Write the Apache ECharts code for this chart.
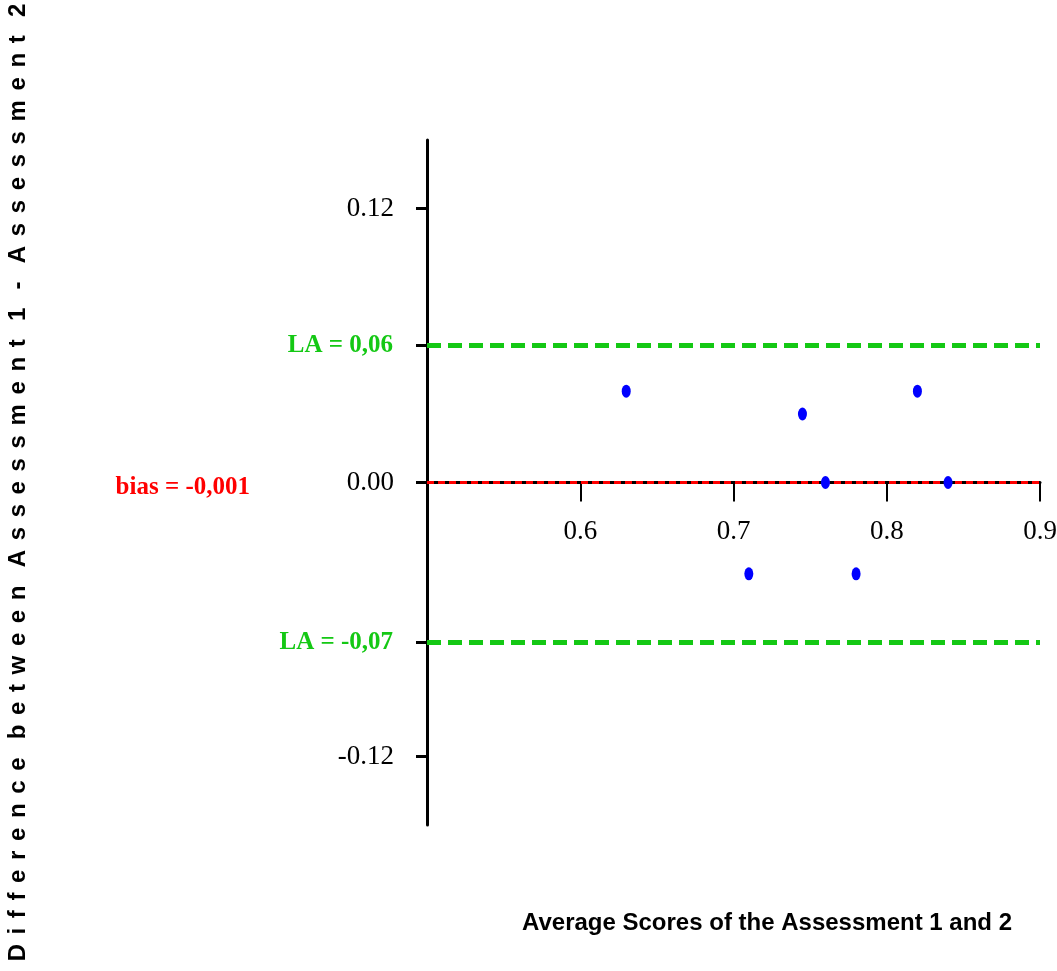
<!DOCTYPE html>
<html>
<head>
<meta charset="utf-8">
<script src="https://cdn.jsdelivr.net/npm/echarts@6/dist/echarts.min.js"></script>
<style>
html,body{margin:0;padding:0;background:#fff;}
#chart{width:1057px;height:971px;}
</style>
</head>
<body>
<div id="chart"></div>
<script>
// ---- data ----
const avgScores = [0.63, 0.71, 0.745, 0.76, 0.78, 0.82, 0.84];
const differences = [0.04, -0.04, 0.03, 0.0, -0.04, 0.04, 0.0];
const biasValue = -0.001;
const upperLA = 0.06;
const lowerLA = -0.07;
const yTickLabels = [-0.12, 0, 0.12];
const yTickMarks = [-0.12, lowerLA, 0, upperLA, 0.12];
const xTitle = 'Average Scores of the Assessment 1 and 2';
const yTitle = 'Difference between Assessment 1 - Assessment 2';

const comma = (v, d) => v.toFixed(d).replace('.', ',');
const spaced = yTitle.split(' ').map(w => w.split('').join('\u2009\u2009')).join('\u2009 \u2009\u200A');

const green = '#14c814';
const serif = "'Liberation Serif', 'Times New Roman', serif";

const gridTop = 140, gridBottom = 146, chartH = 971;
const yMin = -0.15, yMax = 0.15;
// shift the x axis up so that it crosses the y axis at value 0
const plotH = chartH - gridTop - gridBottom;
const zeroOffset = -plotH * (0 - yMin) / (yMax - yMin);

const chart = echarts.init(document.getElementById('chart'), null, {renderer: 'canvas'});
chart.setOption({
  animation: false,
  backgroundColor: '#ffffff',
  grid: {left: 427, right: 17, top: gridTop, bottom: gridBottom, containLabel: false, outerBoundsMode: 'none'},
  xAxis: {
    type: 'value', min: 0.5, max: 0.9, interval: 0.1,
    position: 'bottom', offset: zeroOffset,
    axisLine: {onZero: false, lineStyle: {color: '#000', width: 3}},
    axisTick: {show: true, length: 19, lineStyle: {color: '#000', width: 2}},
    splitLine: {show: false},
    axisLabel: {showMinLabel: false, margin: 36, color: '#000', fontFamily: serif, fontSize: 27,
      formatter: v => String(Math.round(v * 10) / 10)}
  },
  yAxis: {
    type: 'value', min: yMin, max: yMax,
    name: spaced, nameLocation: 'middle', nameGap: 397, nameRotate: 90,
    nameTextStyle: {fontFamily: "'Liberation Sans', Arial, sans-serif", fontWeight: 'bold', fontSize: 24, color: '#000'},
    axisLine: {show: true, onZero: false, lineStyle: {color: '#000', width: 3}},
    axisTick: {show: true, length: 11, customValues: yTickMarks, lineStyle: {color: '#000', width: 3}},
    splitLine: {show: false},
    axisLabel: {customValues: yTickLabels, margin: 33, color: '#000', fontFamily: serif, fontSize: 27,
      formatter: v => v.toFixed(2)}
  },
  graphic: [{
    type: 'text', x: 767, y: 923,
    style: {text: xTitle, x: 0, y: 0, align: 'center', verticalAlign: 'middle',
      font: "bold 24px 'Liberation Sans', Arial, sans-serif", fill: '#000'}
  }],
  series: [{
    type: 'scatter',
    data: avgScores.map((x, i) => [x, differences[i]]),
    symbol: 'circle', symbolSize: [9, 13],
    itemStyle: {color: '#0000ff', opacity: 1},
    z: 5,
    markLine: {
      silent: true, symbol: ['none', 'none'],
      data: [
        {yAxis: upperLA, lineStyle: {color: green, type: [14, 7], width: 5},
          label: {show: true, position: 'start', distance: 34, formatter: 'LA = ' + comma(upperLA, 2),
            color: green, fontFamily: serif, fontWeight: 'bold', fontSize: 25}},
        {yAxis: lowerLA, lineStyle: {color: green, type: [14, 7], width: 5},
          label: {show: true, position: 'start', distance: 34, formatter: 'LA = ' + comma(lowerLA, 2),
            color: green, fontFamily: serif, fontWeight: 'bold', fontSize: 25}},
        {yAxis: biasValue, lineStyle: {color: '#ff0000', type: [7, 4], width: 3},
          label: {show: true, position: 'start', distance: 177, offset: [0, 5], formatter: 'bias = ' + comma(biasValue, 3),
            color: '#ff0000', fontFamily: serif, fontWeight: 'bold', fontSize: 25}}
      ]
    }
  }]
});
</script>
</body>
</html>
